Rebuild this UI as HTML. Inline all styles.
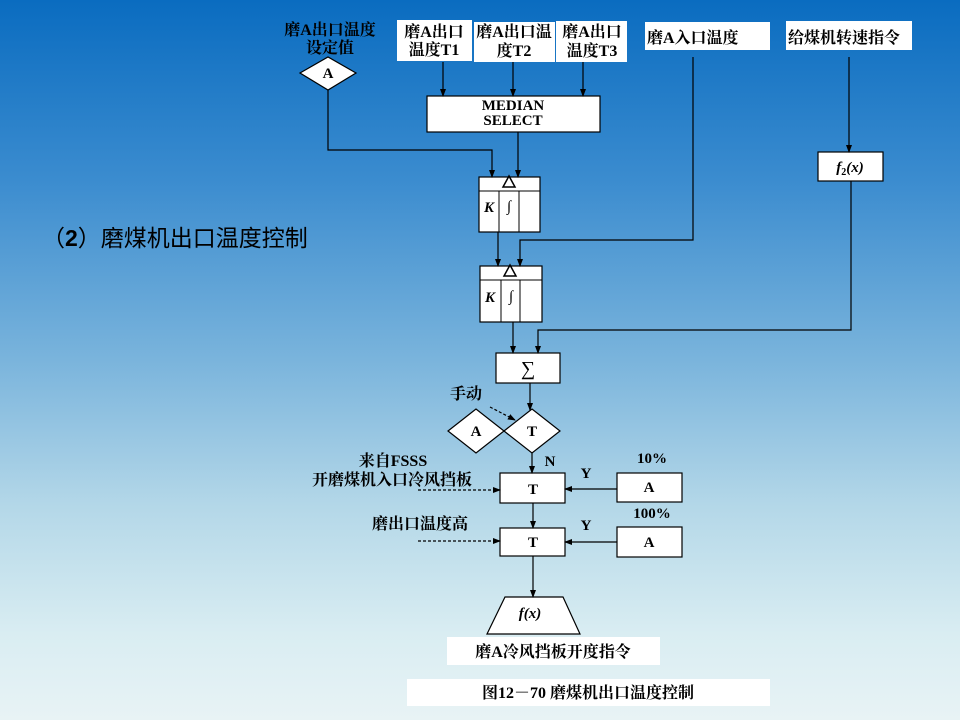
<!DOCTYPE html>
<html><head><meta charset="utf-8"><style>
html,body{margin:0;padding:0}
body{width:960px;height:720px;overflow:hidden;background:linear-gradient(to bottom,#0a6cc0 0%,#3b8ccf 25%,#7ab4dc 50%,#b3d7e8 70%,#d9edf2 88%,#e8f3f5 100%)}
svg{display:block}
.t{font-family:"Liberation Serif","Noto Serif CJK SC",serif;font-weight:bold;fill:#000}
</style></head><body>
<svg width="960" height="720" viewBox="0 0 960 720" xmlns="http://www.w3.org/2000/svg">
<defs><marker id="a" markerWidth="8" markerHeight="8" refX="7" refY="4" orient="auto" markerUnits="userSpaceOnUse"><path d="M0,1 L8,4 L0,7 z" fill="#000"/></marker></defs>
<g fill="#fff" stroke="none">
<rect x="397" y="20" width="75" height="41"/>
<rect x="474" y="22" width="81" height="40"/>
<rect x="556" y="21" width="71" height="41"/>
<rect x="645" y="22" width="125" height="28"/>
<rect x="786" y="21" width="126" height="29"/>
<rect x="447" y="637" width="213" height="28"/>
<rect x="407" y="679" width="363" height="27"/>
</g>
<g fill="#fff" stroke="#000" stroke-width="1.2">
<polygon points="300,73 328,57 356,73 328,90"/>
<rect x="427" y="96" width="173" height="36"/>
<rect x="479" y="177" width="61" height="55"/>
<rect x="480" y="266" width="62" height="56"/>
<rect x="818" y="152" width="65" height="29"/>
<rect x="496" y="353" width="64" height="30"/>
<polygon points="448,431 476,409 504,431 476,453"/>
<polygon points="504,431 532,409 560,431 532,453"/>
<rect x="500" y="473" width="65" height="30"/>
<rect x="617" y="473" width="65" height="29"/>
<rect x="500" y="528" width="65" height="28"/>
<rect x="617" y="527" width="65" height="30"/>
<polygon points="505,597 563,597 580,634 487,634"/>
</g>
<g stroke="#000" stroke-width="1" fill="none">
<line x1="479" y1="191" x2="540" y2="191"/><line x1="499" y1="191" x2="499" y2="232"/><line x1="519" y1="191" x2="519" y2="232"/>
<line x1="480" y1="280" x2="542" y2="280"/><line x1="501" y1="280" x2="501" y2="322"/><line x1="520" y1="280" x2="520" y2="322"/>
<polygon points="509,176 503,187 515,187" stroke-width="1.5"/>
<polygon points="510,265 504,276 516,276" stroke-width="1.5"/>
</g>
<g stroke="#000" stroke-width="1.2" fill="none" marker-end="url(#a)">
<line x1="443" y1="62" x2="443" y2="96"/>
<line x1="513" y1="62" x2="513" y2="96"/>
<line x1="583" y1="62" x2="583" y2="96"/>
<line x1="518" y1="132" x2="518" y2="177"/>
<polyline points="328,90 328,150 492,150 492,177"/>
<line x1="498" y1="232" x2="498" y2="266"/>
<polyline points="693,57 693,240 520,240 520,266"/>
<line x1="849" y1="57" x2="849" y2="152"/>
<line x1="513" y1="322" x2="513" y2="353"/>
<polyline points="851,181 851,330 538,330 538,353"/>
<line x1="530" y1="383" x2="530" y2="410"/>
<line x1="532" y1="453" x2="532" y2="473"/>
<line x1="617" y1="489" x2="565" y2="489"/>
<line x1="533" y1="503" x2="533" y2="528"/>
<line x1="617" y1="542" x2="565" y2="542"/>
<line x1="533" y1="556" x2="533" y2="597"/>
<line x1="418" y1="490" x2="500" y2="490" stroke-dasharray="3,2"/>
<line x1="418" y1="541" x2="500" y2="541" stroke-dasharray="3,2"/>
<line x1="490" y1="407" x2="515" y2="420" stroke-dasharray="3,2"/>
</g>
<g class="t" font-size="16" text-anchor="middle">
<text x="330" y="35">磨A出口温度</text><text x="330" y="53">设定值</text>
<text x="434" y="37">磨A出口</text><text x="434" y="55">温度T1</text>
<text x="514" y="37">磨A出口温</text><text x="514" y="56">度T2</text>
<text x="592" y="37">磨A出口</text><text x="592" y="56">温度T3</text>
<text x="647" y="43" text-anchor="start">磨A入口温度</text>
<text x="788" y="43" text-anchor="start">给煤机转速指令</text>
<text x="393" y="466">来自FSSS</text>
<text x="392" y="485">开磨煤机入口冷风挡板</text>
<text x="420" y="529">磨出口温度高</text>
<text x="466" y="399">手动</text>
<text x="553" y="657">磨A冷风挡板开度指令</text>
<text x="588" y="698">图12－70 磨煤机出口温度控制</text>
</g>
<g class="t" font-size="15" text-anchor="middle">
<text x="513" y="110">MEDIAN</text><text x="513" y="125">SELECT</text>
<text x="328" y="78">A</text>
<text x="476" y="436">A</text><text x="532" y="436">T</text>
<text x="533" y="494">T</text><text x="533" y="547">T</text>
<text x="649" y="492">A</text><text x="649" y="547">A</text>
<text x="550" y="466">N</text>
<text x="586" y="478">Y</text><text x="586" y="530">Y</text>
<text x="652" y="463">10%</text><text x="652" y="518">100%</text>
</g>
<g font-family="Liberation Serif,serif" font-style="italic" font-weight="bold" font-size="15" text-anchor="middle">
<text x="489" y="212">K</text><text x="490" y="302">K</text>
</g>
<g font-family="Liberation Serif,serif" font-size="15" text-anchor="middle">
<text x="509" y="211">∫</text><text x="511" y="301">∫</text>
<text x="528" y="375" font-size="20">∑</text>
<text x="850" y="172" font-style="italic" font-weight="bold">f<tspan font-size="10" dy="3" font-style="normal">2</tspan><tspan dy="-3">(x)</tspan></text>
<text x="530" y="618" font-style="italic" font-weight="bold">f(x)</text>
</g>
<text x="42" y="246" font-family="Liberation Sans,'Noto Sans CJK SC',sans-serif" font-size="23" fill="#000">（<tspan font-weight="bold">2</tspan>）磨煤机出口温度控制</text>
</svg>
</body></html>
